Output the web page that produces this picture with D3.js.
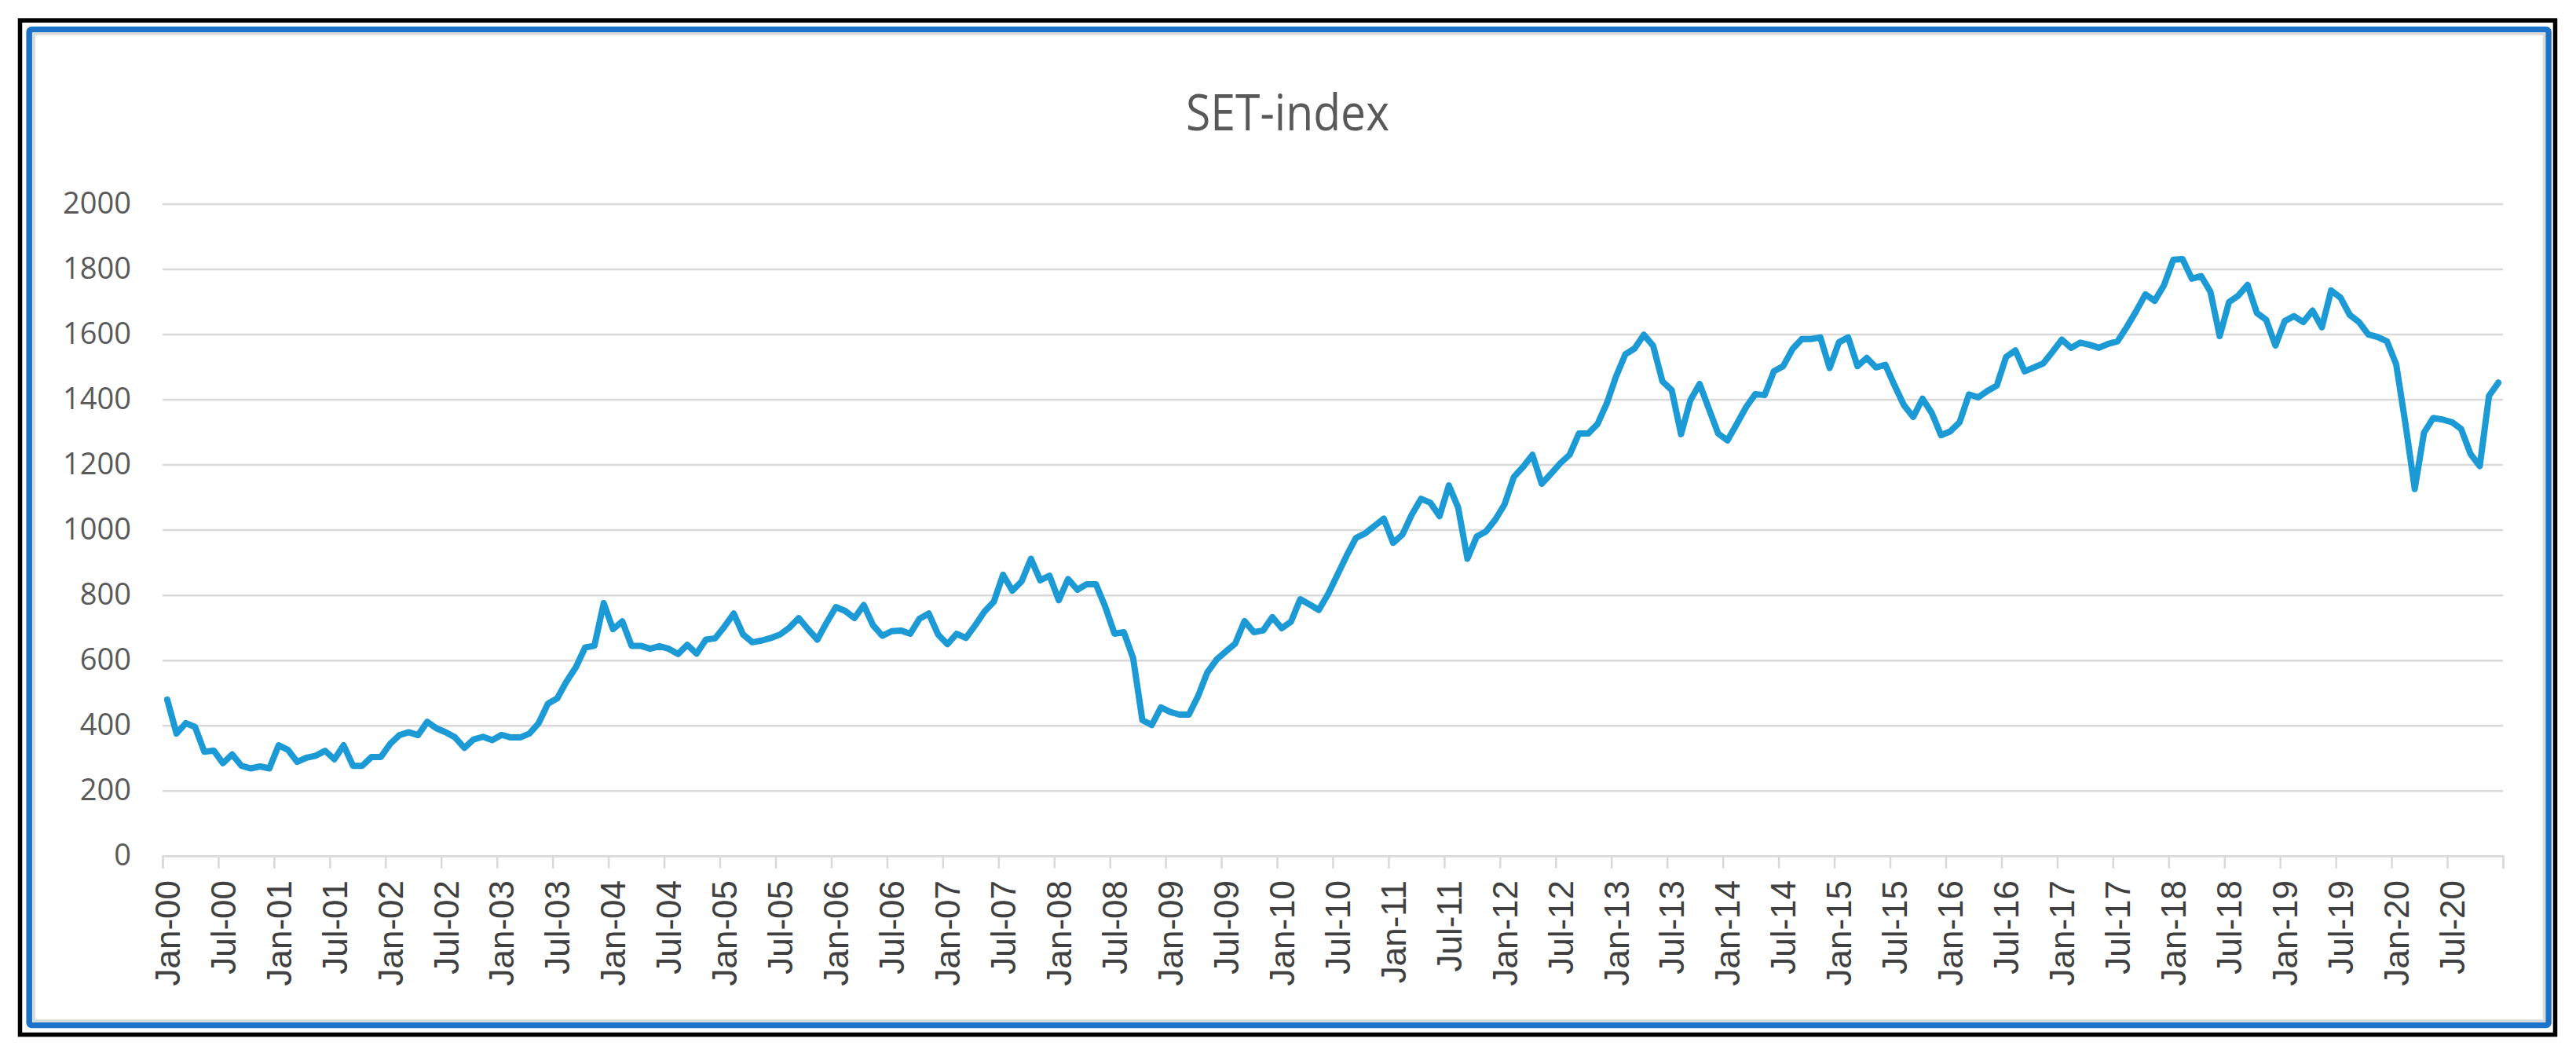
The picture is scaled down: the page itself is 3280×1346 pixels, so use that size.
<!DOCTYPE html>
<html>
<head>
<meta charset="utf-8">
<script src="https://cdn.jsdelivr.net/npm/d3@7"></script>
<style>
  html, body { margin: 0; padding: 0; background: #ffffff; }
  svg { display: block; }
</style>
</head>
<body>
<svg id="chart" width="3280" height="1346"></svg>
<script>
// ---------------- DATA ----------------
const chartTitle = "SET-index";
const startYear = 2000;          // first category: Jan-00
const monthNames = ["Jan","Feb","Mar","Apr","May","Jun","Jul","Aug","Sep","Oct","Nov","Dec"];

// Monthly SET index values, Jan-2000 .. Dec-2020
const setIndex = [
  479, 375, 407, 395, 319, 323, 284, 311, 276, 268, 274, 268,   // 2000
  339, 325, 288, 301, 307, 322, 296, 339, 276, 276, 303, 303,   // 2001
  343, 370, 379, 370, 411, 391, 379, 363, 331, 357, 365, 355,   // 2002
  371, 363, 363, 375, 407, 467, 483, 535, 578, 639, 644, 775,   // 2003
  695, 719, 644, 644, 635, 643, 635, 619, 647, 620, 663, 667,   // 2004
  703, 743, 679, 655, 660, 668, 679, 700, 729, 695, 663, 715,   // 2005
  763, 751, 729, 769, 707, 675, 689, 691, 681, 727, 743, 679,   // 2006
  649, 681, 668, 707, 749, 779, 862, 813, 842, 911, 845, 859,   // 2007
  784, 849, 816, 833, 833, 764, 681, 686, 607, 416, 401, 455,   // 2008
  441, 433, 433, 490, 563, 602, 627, 651, 720, 686, 691, 732,   // 2009
  698, 718, 787, 771, 754, 803, 862, 921, 975, 989, 1012, 1034, // 2010
  960, 985, 1046, 1095, 1083, 1042, 1136, 1068, 911, 979, 995, 1031, // 2011
  1078, 1162, 1193, 1230, 1141, 1172, 1204, 1230, 1295, 1295, 1324, 1387, // 2012
  1470, 1538, 1556, 1598, 1564, 1455, 1428, 1293, 1397, 1447, 1371, 1295, // 2013
  1274, 1324, 1376, 1416, 1413, 1486, 1502, 1554, 1585, 1585, 1590, 1496, // 2014
  1575, 1590, 1502, 1527, 1498, 1506, 1442, 1382, 1346, 1402, 1358, 1290, // 2015
  1302, 1330, 1415, 1406, 1426, 1442, 1530, 1550, 1486, 1498, 1510, 1546, // 2016
  1583, 1558, 1574, 1567, 1558, 1570, 1578, 1622, 1670, 1722, 1702, 1750, // 2017
  1828, 1830, 1770, 1778, 1730, 1594, 1698, 1718, 1751, 1665, 1644, 1565, // 2018
  1640, 1655, 1637, 1672, 1621, 1734, 1712, 1659, 1637, 1599, 1591, 1578, // 2019
  1508, 1325, 1125, 1298, 1343, 1338, 1330, 1309, 1233, 1195, 1411, 1451  // 2020
];

const yTicks = [0, 200, 400, 600, 800, 1000, 1200, 1400, 1600, 1800, 2000];

const xTickLabels = [
  "Jan-00","Jul-00","Jan-01","Jul-01","Jan-02","Jul-02","Jan-03","Jul-03",
  "Jan-04","Jul-04","Jan-05","Jul-05","Jan-06","Jul-06","Jan-07","Jul-07",
  "Jan-08","Jul-08","Jan-09","Jul-09","Jan-10","Jul-10","Jan-11","Jul-11",
  "Jan-12","Jul-12","Jan-13","Jul-13","Jan-14","Jul-14","Jan-15","Jul-15",
  "Jan-16","Jul-16","Jan-17","Jul-17","Jan-18","Jul-18","Jan-19","Jul-19",
  "Jan-20","Jul-20"
];

// categories (month labels) built from the start year
const categories = setIndex.map((_, i) =>
  monthNames[i % 12] + "-" + String((startYear + Math.floor(i / 12)) % 100).padStart(2, "0"));

// ---------------- LAYOUT ----------------
const svg = d3.select("#chart");
const W = 3280, H = 1346;
const plot = { left: 207, right: 3187, top: 259.4, bottom: 1089.8 };

// frames
svg.append("rect").attr("x", 0).attr("y", 0).attr("width", W).attr("height", H).attr("fill", "#ffffff");
svg.append("rect")
  .attr("x", 25.5).attr("y", 26).attr("width", 3228).attr("height", 1291.5)
  .attr("fill", "none").attr("stroke", "#000000").attr("stroke-width", 5.5);
svg.append("rect")
  .attr("x", 37.2).attr("y", 37.6).attr("width", 3207.8).attr("height", 1268)
  .attr("rx", 3).attr("fill", "#ffffff").attr("stroke", "#1b74c9").attr("stroke-width", 7.5);
svg.append("rect")
  .attr("x", 43).attr("y", 43).attr("width", 3196.5).attr("height", 1257)
  .attr("fill", "none").attr("stroke", "#d9d9d9").attr("stroke-width", 3.5);

// scales
const n = setIndex.length;
const x = d3.scaleLinear().domain([0, n]).range([plot.left, plot.right]);
const y = d3.scaleLinear().domain([0, 2000]).range([plot.bottom, plot.top]);

// title
svg.append("text")
  .attr("x", 1639.5).attr("y", 166)
  .attr("text-anchor", "middle")
  .attr("font-family", "'Open Sans', 'Noto Sans', sans-serif")
  .attr("font-size", 64)
  .attr("fill", "#595959")
  .attr("textLength", 259)
  .attr("lengthAdjust", "spacingAndGlyphs")
  .text(chartTitle);

// y axis with gridlines
const yAxis = d3.axisLeft(y)
  .tickValues(yTicks)
  .tickSize(-(plot.right - plot.left))
  .tickPadding(40)
  .tickFormat(d3.format("d"));
const gy = svg.append("g").attr("transform", `translate(${plot.left},0)`).call(yAxis);
gy.select(".domain").remove();
gy.selectAll(".tick line").attr("stroke", "#d9d9d9").attr("stroke-width", 2.5);
gy.selectAll(".tick text")
  .attr("font-family", "'Open Sans', 'Noto Sans', sans-serif")
  .attr("font-size", 38)
  .attr("fill", "#595959");

// x axis: line + tick marks every 6 months at category boundaries
const tickIdx = d3.range(0, n + 1, 6);
const xAxis = d3.axisBottom(x).tickValues(tickIdx).tickSize(16).tickFormat("");
const gx = svg.append("g").attr("transform", `translate(0,${plot.bottom})`).call(xAxis);
gx.select(".domain").attr("stroke", "#d9d9d9").attr("stroke-width", 2.5);
gx.selectAll(".tick line").attr("stroke", "#d9d9d9").attr("stroke-width", 2.5);

// x labels (centered on Jan / Jul categories), rotated
const labelIdx = xTickLabels.map((_, k) => k * 6);
svg.append("g").selectAll("text")
  .data(labelIdx)
  .join("text")
  .attr("transform", d => `translate(${x(d + 0.5)},${1121}) rotate(-90)`)
  .attr("dy", "0.36em")
  .attr("text-anchor", "end")
  .attr("font-family", "'Liberation Sans', Arial, sans-serif")
  .attr("font-size", 44)
  .attr("fill", "#404040")
  .text((d, k) => xTickLabels[k]);

// line
const line = d3.line()
  .x((d, i) => x(i + 0.5))
  .y(d => y(d));
svg.append("path")
  .datum(setIndex)
  .attr("d", line)
  .attr("fill", "none")
  .attr("stroke", "#1c9ad6")
  .attr("stroke-width", 8)
  .attr("stroke-linejoin", "round")
  .attr("stroke-linecap", "round");
</script>
</body>
</html>
